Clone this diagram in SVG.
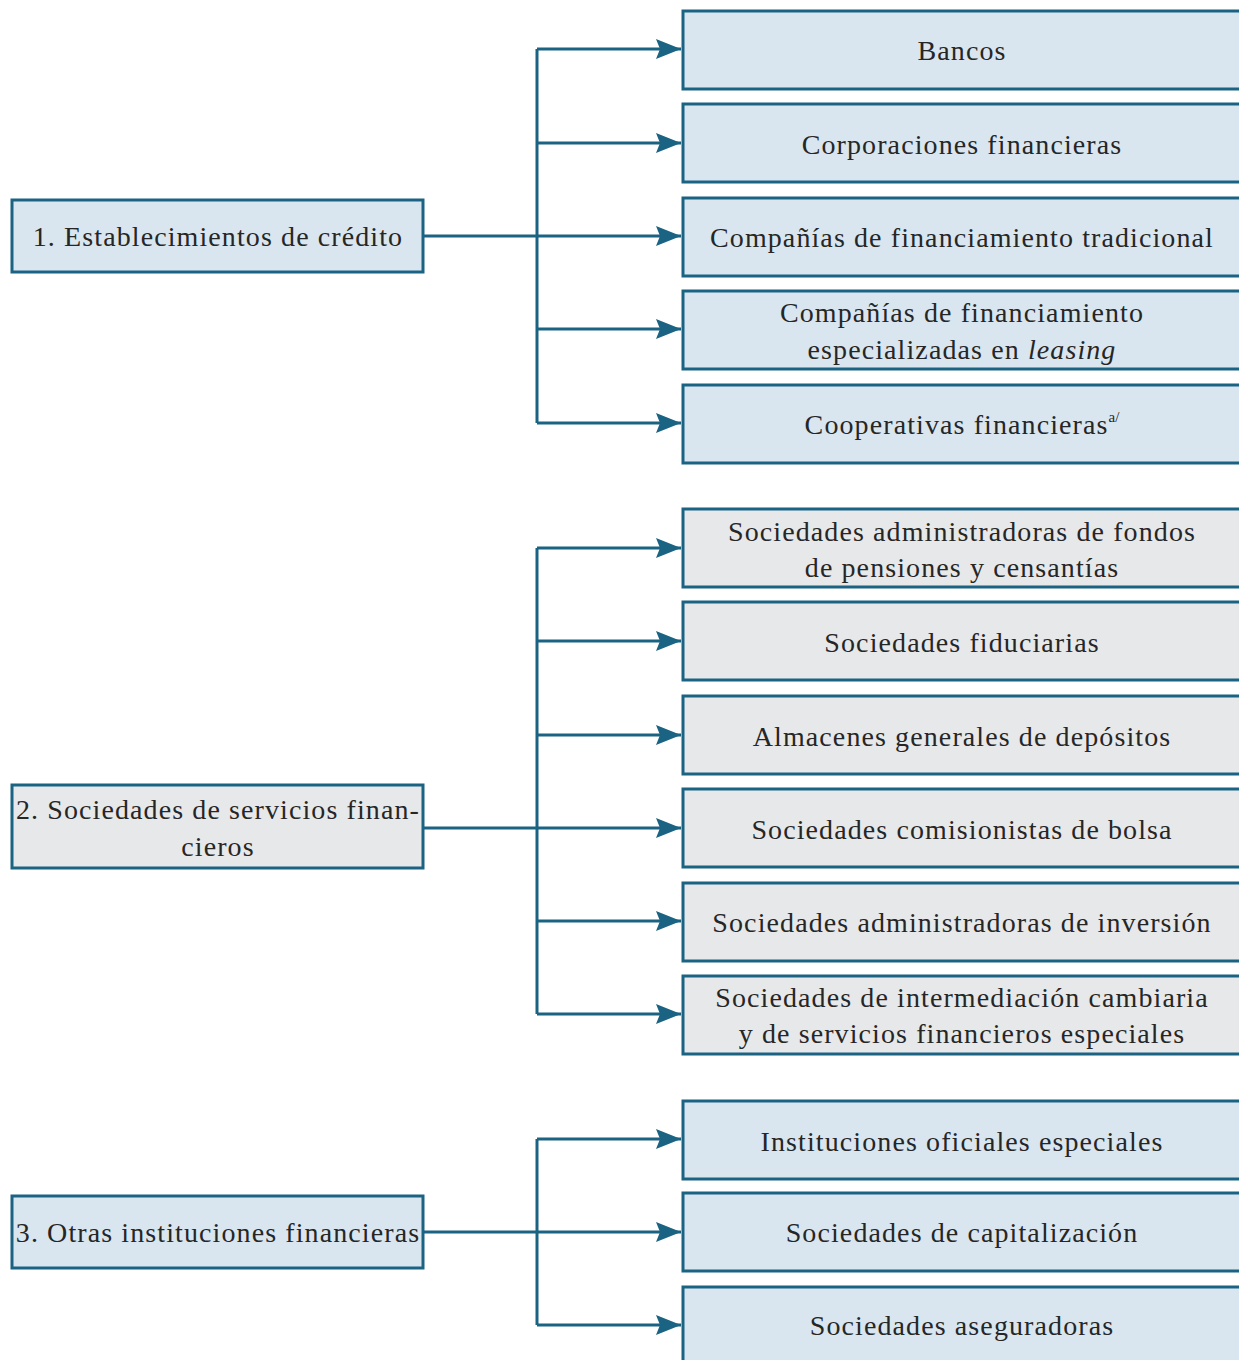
<svg xmlns="http://www.w3.org/2000/svg" width="1239" height="1360" viewBox="0 0 1239 1360">
<defs>
<style>
.b{fill:#d9e6f0;stroke:#1a6382;stroke-width:3}
.g{fill:#e7e8ea;stroke:#1a6382;stroke-width:3}
.t{font-family:"Liberation Serif",serif;font-size:28px;letter-spacing:1.1px;fill:#262626;text-anchor:middle}
.c{fill:none;stroke:#1a6382;stroke-width:3}
</style>
<marker id="ah" viewBox="0 0 25 20" refX="25" refY="10" markerWidth="25" markerHeight="20" markerUnits="userSpaceOnUse" orient="auto">
<path d="M0,0 L25,10 L0,20 L4,10 Z" fill="#1a6382"/>
</marker>
</defs>
<rect width="1239" height="1360" fill="#fff"/>
<g id="connectors">
<path class="c" d="M537,49 V423"/>
<path class="c" d="M537,548 V1014"/>
<path class="c" d="M537,1139 V1325"/>
<g marker-end="url(#ah)">
<path class="c" d="M537,49 H681"/>
<path class="c" d="M537,143 H681"/>
<path class="c" d="M423,236 H681"/>
<path class="c" d="M537,329 H681"/>
<path class="c" d="M537,423 H681"/>
<path class="c" d="M537,548 H681"/>
<path class="c" d="M537,641 H681"/>
<path class="c" d="M537,735 H681"/>
<path class="c" d="M423,828 H681"/>
<path class="c" d="M537,921 H681"/>
<path class="c" d="M537,1014 H681"/>
<path class="c" d="M537,1139 H681"/>
<path class="c" d="M423,1232 H681"/>
<path class="c" d="M537,1325 H681"/>
</g>
</g>
<g id="n1"><rect class="b" x="12" y="200" width="411" height="72"/><text class="t" x="218" y="246">1. Establecimientos de crédito</text></g>
<g id="n2"><rect class="g" x="12" y="785" width="411" height="83"/><text class="t" x="218" y="819">2. Sociedades de servicios finan-</text><text class="t" x="218" y="856">cieros</text></g>
<g id="n3"><rect class="b" x="12" y="1196" width="411" height="72"/><text class="t" x="218" y="1242">3. Otras instituciones financieras</text></g>
<g id="r1"><rect class="b" x="683" y="11" width="560" height="78"/><text class="t" x="962" y="60">Bancos</text></g>
<g id="r2"><rect class="b" x="683" y="104" width="560" height="78"/><text class="t" x="962" y="154">Corporaciones financieras</text></g>
<g id="r3"><rect class="b" x="683" y="198" width="560" height="78"/><text class="t" x="962" y="247">Compañías de financiamiento tradicional</text></g>
<g id="r4"><rect class="b" x="683" y="291" width="560" height="78"/><text class="t" x="962" y="322">Compañías de financiamiento</text><text class="t" x="962" y="359">especializadas en <tspan font-style="italic">leasing</tspan></text></g>
<g id="r5"><rect class="b" x="683" y="385" width="560" height="78"/><text class="t" x="962" y="434">Cooperativas financieras<tspan font-size="15" letter-spacing="0" dy="-12">a/</tspan></text></g>
<g id="r6"><rect class="g" x="683" y="509" width="560" height="78"/><text class="t" x="962" y="541">Sociedades administradoras de fondos</text><text class="t" x="962" y="577">de pensiones y censantías</text></g>
<g id="r7"><rect class="g" x="683" y="602" width="560" height="78"/><text class="t" x="962" y="652">Sociedades fiduciarias</text></g>
<g id="r8"><rect class="g" x="683" y="696" width="560" height="78"/><text class="t" x="962" y="746">Almacenes generales de depósitos</text></g>
<g id="r9"><rect class="g" x="683" y="789" width="560" height="78"/><text class="t" x="962" y="839">Sociedades comisionistas de bolsa</text></g>
<g id="r10"><rect class="g" x="683" y="883" width="560" height="78"/><text class="t" x="962" y="932">Sociedades administradoras de inversión</text></g>
<g id="r11"><rect class="g" x="683" y="976" width="560" height="78"/><text class="t" x="962" y="1007">Sociedades de intermediación cambiaria</text><text class="t" x="962" y="1043">y de servicios financieros especiales</text></g>
<g id="r12"><rect class="b" x="683" y="1101" width="560" height="78"/><text class="t" x="962" y="1151">Instituciones oficiales especiales</text></g>
<g id="r13"><rect class="b" x="683" y="1193" width="560" height="78"/><text class="t" x="962" y="1242">Sociedades de capitalización</text></g>
<g id="r14"><rect class="b" x="683" y="1287" width="560" height="78"/><text class="t" x="962" y="1335">Sociedades aseguradoras</text></g>
</svg>
